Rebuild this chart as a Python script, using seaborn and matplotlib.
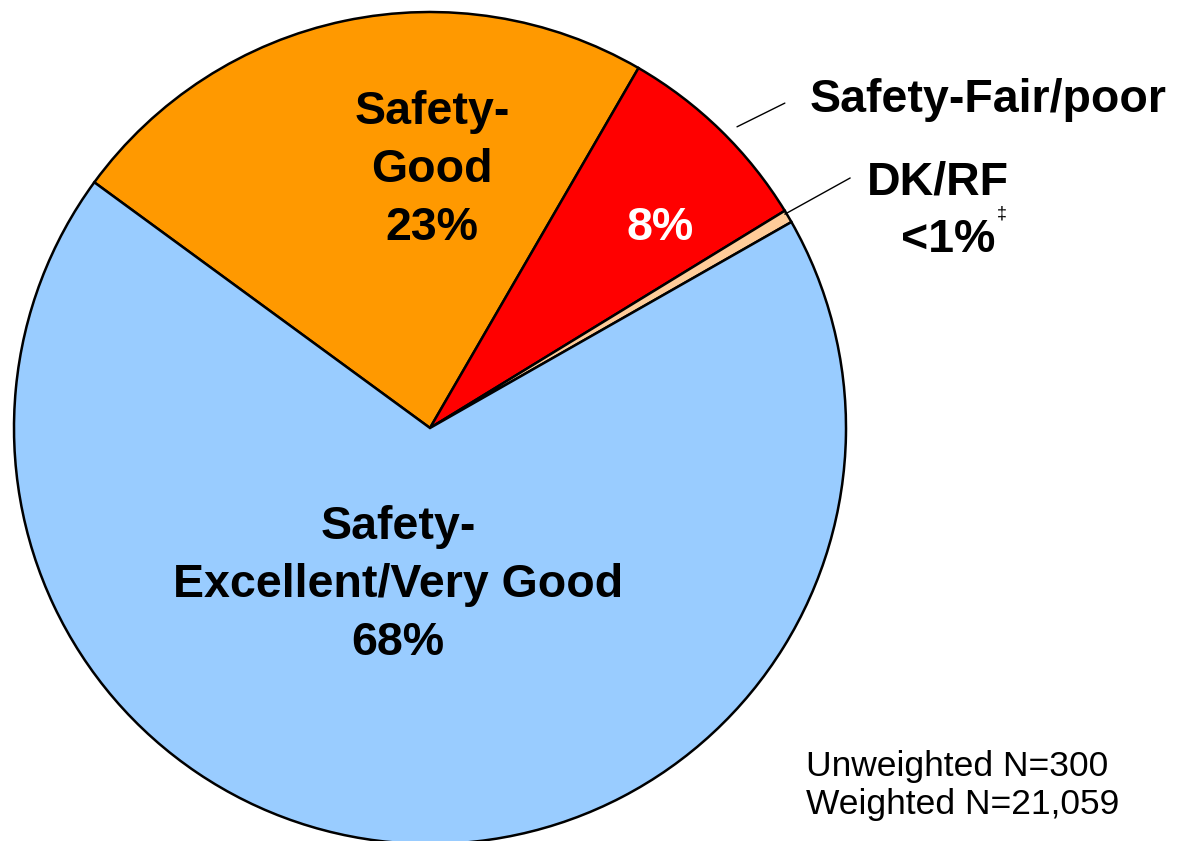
import matplotlib
matplotlib.use("Agg")
import matplotlib.pyplot as plt
import seaborn as sns

# data
labels = ["Safety-Good", "Safety-Fair/poor", "DK/RF", "Safety-Excellent/Very Good"]
shares = [23.3, 7.9, 0.5, 68.3]
colors = ["#FF9900", "#FF0000", "#FFCC99", "#99CCFF"]
n_unweighted = "300"
n_weighted = "21,059"

sns.set_style("white")
plt.rcParams["font.family"] = ["Liberation Sans", "DejaVu Sans"]
plt.rcParams["text.color"] = "black"

fig = plt.figure(figsize=(11.8, 8.41), dpi=100)
ax = fig.add_axes([14 / 1180, -3 / 841, 832 / 1180, 832 / 841])
pal = sns.color_palette(colors)

ax.pie(shares, colors=pal, startangle=143.8, counterclock=False,
       radius=1, wedgeprops=dict(edgecolor="black", linewidth=1.8))
ax.set_xlim(-1, 1)
ax.set_ylim(-1, 1)
ax.set_aspect("equal")
ax.axis("off")

bold = dict(fontsize=33.5, fontweight="bold", ha="center", va="center",
            linespacing=1.42)
# labels inside slices
ax.text(0.005, 0.62, "Safety-\nGood\n23%", color="black", **bold)
ax.text(0.553, 0.481, "8%", color="white", **bold)
ax.text(-0.077, -0.377, "Safety-\nExcellent/Very Good\n68%", color="black", **bold)

# outside labels
ax.text(0.913, 0.788, "Safety-Fair/poor", fontsize=33.5, fontweight="bold",
        ha="left", va="center", clip_on=False)
ax.text(1.222, 0.589, "DK/RF", fontsize=33.5, fontweight="bold",
        ha="center", va="center", clip_on=False)
ax.text(1.245, 0.452, "<1%", fontsize=33.5, fontweight="bold",
        ha="center", va="center", clip_on=False)
ax.text(1.374, 0.515, "\u2021", fontsize=13, ha="center", va="center",
        clip_on=False)

# leader lines
ax.plot([0.738, 0.853], [0.724, 0.781], color="black", lw=1.0, clip_on=False)
ax.plot([0.853, 1.010], [0.514, 0.601], color="black", lw=1.0, clip_on=False)

# sample size note
ax.text(0.904, -0.86, "Unweighted N=" + n_unweighted + "\nWeighted N=" + n_weighted,
        fontsize=25.5, ha="left", va="center", linespacing=1.2, clip_on=False)

fig.savefig("out.png", dpi=100)
